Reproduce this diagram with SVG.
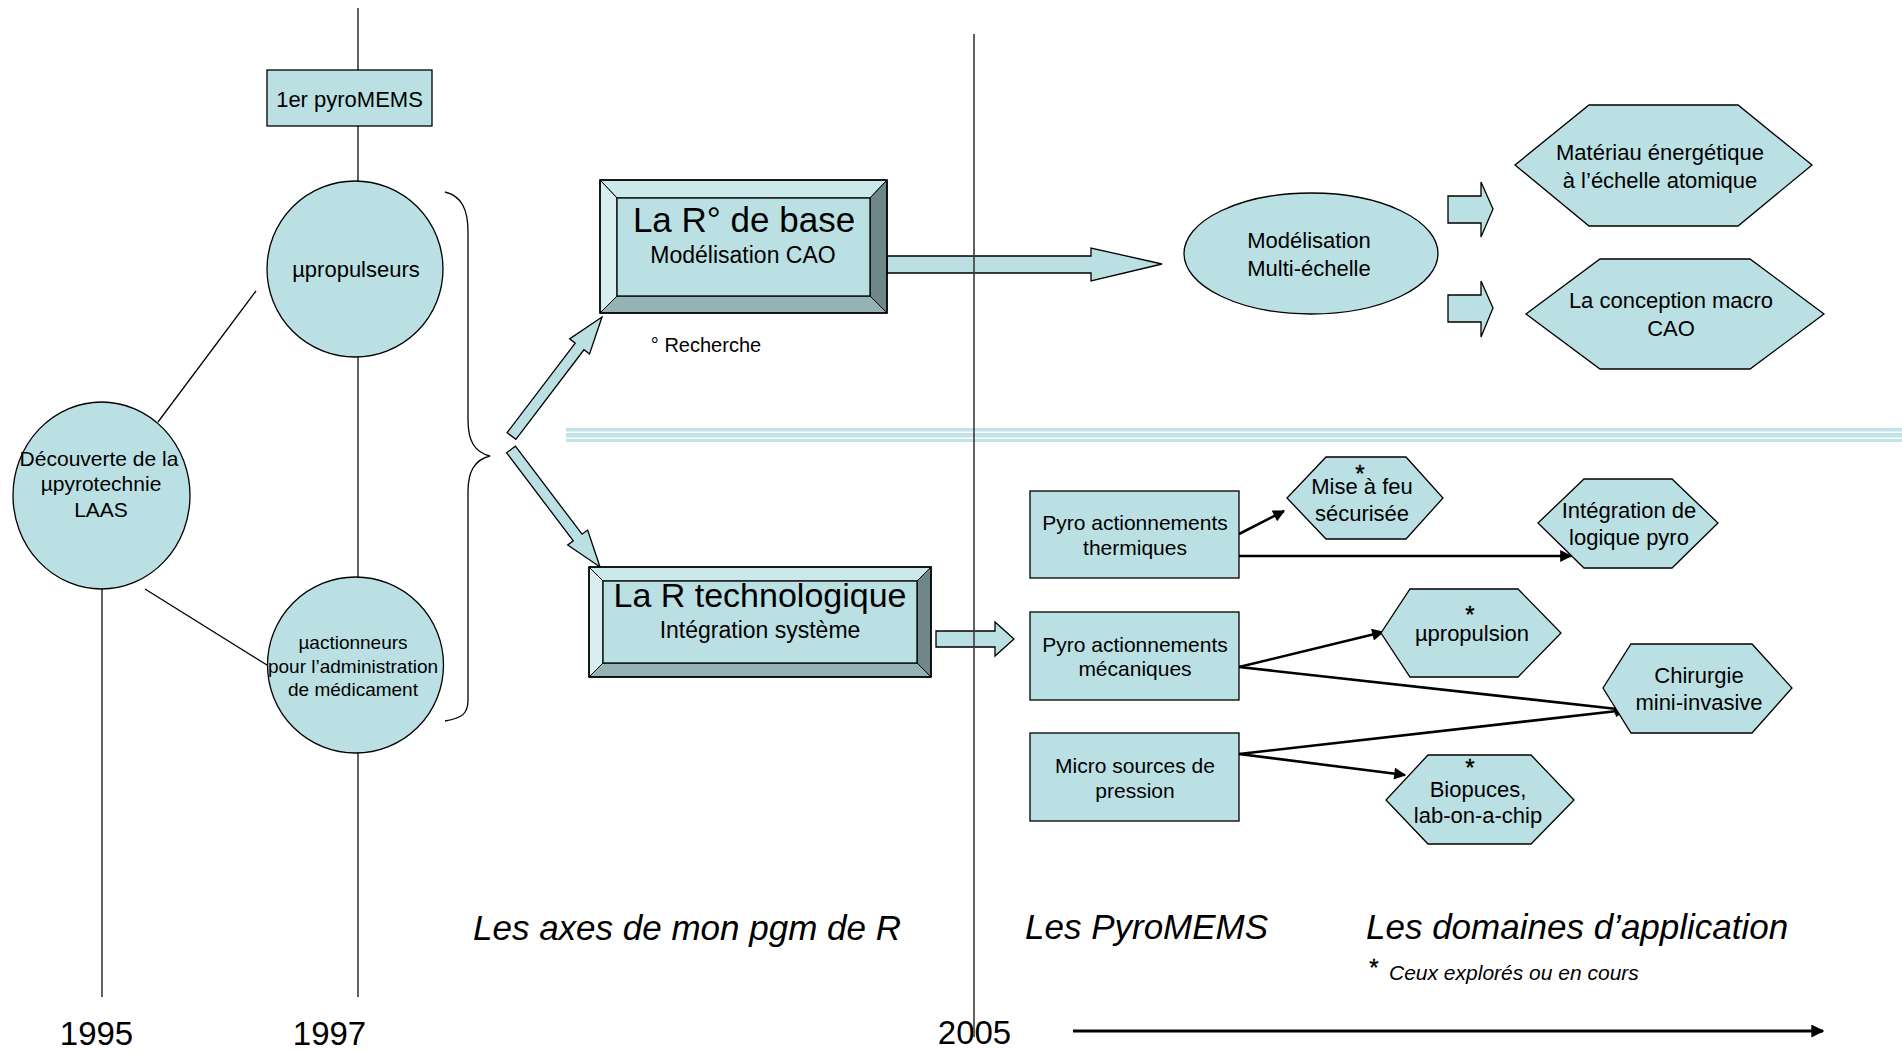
<svg xmlns="http://www.w3.org/2000/svg" width="1902" height="1052" viewBox="0 0 1902 1052">
<defs>
<style>
.t{font-family:"Liberation Sans",Arial,sans-serif;fill:#000;text-anchor:middle}
.it{font-family:"Liberation Sans",Arial,sans-serif;font-style:italic;fill:#000}
.ast{font-family:"Liberation Sans",Arial,sans-serif;fill:#000;text-anchor:middle;font-size:24px;stroke:#000;stroke-width:0.4}
.fill{fill:#bae0e4;stroke:#000;stroke-width:1.3}
.vl{stroke:#3a3a3a;stroke-width:1.6;fill:none}
.thin{stroke:#000;stroke-width:1.3;fill:none}
.conn{stroke:#000;stroke-width:2.6;fill:none;marker-end:url(#ah)}
.bt{fill:#cbe8eb;stroke:#000;stroke-width:1}
.bl{fill:#d8eef0;stroke:#000;stroke-width:1}
.br{fill:#6f8789;stroke:#000;stroke-width:1}
.bb{fill:#95b2b5;stroke:#000;stroke-width:1}
</style>
<marker id="ah" viewBox="0 0 10 10" refX="9" refY="5" markerWidth="15" markerHeight="12" markerUnits="userSpaceOnUse" orient="auto">
<path d="M0,0 L10,5 L0,10 z" fill="#000"/>
</marker>
<marker id="ah2" viewBox="0 0 10 10" refX="9" refY="5" markerWidth="13" markerHeight="13" markerUnits="userSpaceOnUse" orient="auto">
<path d="M0,0 L10,5 L0,10 z" fill="#000"/>
</marker>
</defs>
<rect width="1902" height="1052" fill="#fff"/>

<!-- timeline lines -->
<g id="timelines">
<line class="vl" x1="358" y1="8" x2="358" y2="997"/>
<line class="vl" x1="102" y1="589" x2="102" y2="997"/>
</g>

<!-- separator band -->
<g id="band">
<rect x="566" y="428" width="1336" height="14" fill="#c2e3e7"/>
<rect x="566" y="431.5" width="1336" height="1.5" fill="#fff"/>
<rect x="566" y="437.5" width="1336" height="1.5" fill="#fff"/>
</g>

<!-- connectors -->
<g id="connectors">
<line class="thin" x1="158" y1="422" x2="256" y2="291"/>
<line class="thin" x1="145" y1="589" x2="267" y2="665"/>
<path class="thin" d="M445,192 C462,196 468,210 468,232 L468,420 C468,440 474,452 490,456 C474,460 468,472 468,492 L468,700 C468,714 462,718 445,721"/>
<polygon class="fill" transform="translate(511.5,436) rotate(-52.75)" points="0,-5.5 112.5,-5.5 112.5,-12.5 149.5,0 112.5,12.5 112.5,5.5 0,5.5"/>
<polygon class="fill" transform="translate(511,449.5) rotate(52.85)" points="0,-5.5 110.4,-5.5 110.4,-12.5 147.4,0 110.4,12.5 110.4,5.5 0,5.5"/>
<polygon class="fill" points="887,256 1091,256 1091,248 1162,264 1091,281 1091,273 887,273"/>
<polygon class="fill" points="936,631 995,631 995,622 1014,639 995,656 995,647 936,647"/>
<polygon class="fill" points="1448,196 1481,196 1481,182 1493,209 1481,237 1481,223 1448,223"/>
<polygon class="fill" points="1448,295 1481,295 1481,281 1493,308 1481,337 1481,322 1448,322"/>
<line class="conn" x1="1239" y1="534" x2="1284" y2="511"/>
<line class="conn" x1="1239" y1="556" x2="1571" y2="556"/>
<line class="conn" x1="1239" y1="667" x2="1383" y2="632"/>
<line class="conn" x1="1239" y1="667" x2="1626" y2="710"/>
<line class="conn" x1="1239" y1="754" x2="1626" y2="710"/>
<line class="conn" x1="1239" y1="754" x2="1405" y2="775"/>
</g>

<!-- left nodes -->
<g id="n-pyromems1">
<rect class="fill" x="267" y="70" width="165" height="56"/>
<text class="t" x="349.5" y="107" font-size="22">1er pyroMEMS</text>
</g>
<g id="n-upropulseurs">
<circle class="fill" cx="355" cy="269" r="88"/>
<text class="t" x="356" y="277" font-size="22">µpropulseurs</text>
</g>
<g id="n-decouverte">
<ellipse class="fill" cx="101.5" cy="495.5" rx="88.5" ry="93.5"/>
<text class="t" x="99" y="466" font-size="21">Découverte de la</text>
<text class="t" x="101" y="491" font-size="21">µpyrotechnie</text>
<text class="t" x="101" y="517" font-size="21">LAAS</text>
</g>
<g id="n-uactionneurs">
<circle class="fill" cx="355.5" cy="665" r="88"/>
<text class="t" x="353" y="649" font-size="19">µactionneurs</text>
<text class="t" x="353" y="673" font-size="19">pour l’administration</text>
<text class="t" x="353" y="696" font-size="19">de médicament</text>
</g>

<!-- bevel boxes -->
<g id="n-rbase">
<rect x="600" y="180" width="287" height="133" fill="#bae0e4"/>
<polygon class="bt" points="600,180 887,180 870,198 617,198"/>
<polygon class="bl" points="600,180 617,198 617,296 600,313"/>
<polygon class="br" points="887,180 887,313 870,296 870,198"/>
<polygon class="bb" points="600,313 617,296 870,296 887,313"/>
<rect x="617" y="198" width="253" height="98" fill="#bae0e4" stroke="#000" stroke-width="1.3"/>
<rect x="600" y="180" width="287" height="133" fill="none" stroke="#000" stroke-width="1.6"/>
<text class="t" x="744" y="232" font-size="35">La R° de base</text>
<text class="t" x="743" y="263" font-size="23">Modélisation CAO</text>
</g>
<text class="t" x="706" y="352" font-size="20">° Recherche</text>
<g id="n-rtech">
<rect x="589" y="567" width="342" height="110" fill="#bae0e4"/>
<polygon class="bt" points="589,567 931,567 917,581 603,581"/>
<polygon class="bl" points="589,567 603,581 603,663 589,677"/>
<polygon class="br" points="931,567 931,677 917,663 917,581"/>
<polygon class="bb" points="589,677 603,663 917,663 931,677"/>
<rect x="603" y="581" width="314" height="82" fill="#bae0e4" stroke="#000" stroke-width="1.3"/>
<rect x="589" y="567" width="342" height="110" fill="none" stroke="#000" stroke-width="1.6"/>
<text class="t" x="760" y="607" font-size="34">La R technologique</text>
<text class="t" x="760" y="638" font-size="23">Intégration système</text>
</g>

<!-- upper right -->
<g id="n-modelisation">
<ellipse class="fill" cx="1311" cy="253.5" rx="127" ry="60.5"/>
<text class="t" x="1309" y="248" font-size="22">Modélisation</text>
<text class="t" x="1309" y="276" font-size="22">Multi-échelle</text>
</g>
<g id="n-materiau">
<polygon class="fill" points="1589,105 1738,105 1812,165 1738,226 1589,226 1515,165"/>
<text class="t" x="1660" y="160" font-size="22">Matériau énergétique</text>
<text class="t" x="1660" y="188" font-size="22">à l’échelle atomique</text>
</g>
<g id="n-conception">
<polygon class="fill" points="1600,259 1750,259 1824,314 1750,369 1600,369 1526,314"/>
<text class="t" x="1671" y="308" font-size="22">La conception macro</text>
<text class="t" x="1671" y="336" font-size="22">CAO</text>
</g>

<!-- pyro boxes -->
<g id="n-thermiques">
<rect class="fill" x="1030" y="491" width="209" height="87"/>
<text class="t" x="1135" y="530" font-size="21">Pyro actionnements</text>
<text class="t" x="1135" y="555" font-size="21">thermiques</text>
</g>
<g id="n-mecaniques">
<rect class="fill" x="1030" y="612" width="209" height="88"/>
<text class="t" x="1135" y="652" font-size="21">Pyro actionnements</text>
<text class="t" x="1135" y="676" font-size="21">mécaniques</text>
</g>
<g id="n-pression">
<rect class="fill" x="1030" y="733" width="209" height="88"/>
<text class="t" x="1135" y="773" font-size="21">Micro sources de</text>
<text class="t" x="1135" y="798" font-size="21">pression</text>
</g>

<!-- application hexagons -->
<g id="n-misefeu">
<polygon class="fill" points="1326,457 1406,457 1443,498 1406,539 1326,539 1287,498"/>
<text class="ast" x="1360" y="482">*</text>
<text class="t" x="1362" y="494" font-size="22">Mise à feu</text>
<text class="t" x="1362" y="521" font-size="22">sécurisée</text>
</g>
<g id="n-integration">
<polygon class="fill" points="1584,479 1672,479 1718,523 1672,568 1584,568 1538,523"/>
<text class="t" x="1629" y="518" font-size="22">Intégration de</text>
<text class="t" x="1629" y="545" font-size="22">logique pyro</text>
</g>
<g id="n-upropulsion">
<polygon class="fill" points="1410,589 1518,589 1561,633 1518,677 1410,677 1381,633"/>
<text class="ast" x="1470" y="623">*</text>
<text class="t" x="1472" y="641" font-size="22">µpropulsion</text>
</g>
<g id="n-chirurgie">
<polygon class="fill" points="1631,644 1752,644 1792,688 1752,733 1631,733 1603,688"/>
<text class="t" x="1699" y="683" font-size="22">Chirurgie</text>
<text class="t" x="1699" y="710" font-size="22">mini-invasive</text>
</g>
<g id="n-biopuces">
<polygon class="fill" points="1428,755 1531,755 1574,800 1531,844 1428,844 1386,800"/>
<text class="ast" x="1470" y="776">*</text>
<text class="t" x="1478" y="797" font-size="22">Biopuces,</text>
<text class="t" x="1478" y="823" font-size="22">lab-on-a-chip</text>
</g>

<!-- bottom labels -->
<g id="labels">
<text class="it" x="473" y="940" font-size="35">Les axes de mon pgm de R</text>
<text class="it" x="1025" y="939" font-size="35">Les PyroMEMS</text>
<text class="it" x="1366" y="939" font-size="35">Les domaines d’application</text>
<text class="ast" x="1374" y="976">*</text>
<text class="it" x="1389" y="980" font-size="21">Ceux explorés ou en cours</text>
<text class="t" x="96.5" y="1045" font-size="33">1995</text>
<text class="t" x="329.5" y="1045" font-size="33">1997</text>
<text class="t" x="974.5" y="1044" font-size="33">2005</text>
</g>
<g id="timeaxis">
<line x1="1073" y1="1031" x2="1823" y2="1031" stroke="#000" stroke-width="3" marker-end="url(#ah2)"/>
<line class="vl" x1="974" y1="34" x2="974" y2="1037"/>
</g>
</svg>
